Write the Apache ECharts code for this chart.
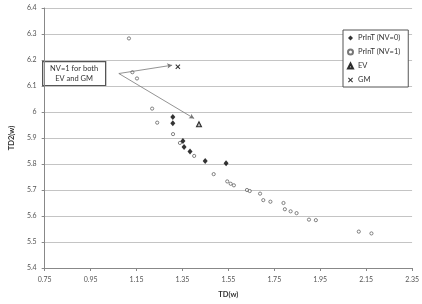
<!DOCTYPE html>
<html>
<head>
<meta charset="utf-8">
<script src="https://cdn.jsdelivr.net/npm/echarts@6/dist/echarts.min.js"></script>
<style>
  html, body { margin: 0; padding: 0; background: #fff; }
  #chart { width: 422px; height: 304px; }
</style>
</head>
<body>
<div id="chart"></div>
<script>
// PrInT (NV=0)
const nv0X = [1.308, 1.308, 1.352, 1.357, 1.383, 1.449, 1.540]
const nv0Y = [5.981, 5.957, 5.888, 5.865, 5.848, 5.812, 5.803]
// PrInT (NV=1)
const nv1X = [1.117, 1.132, 1.152, 1.218, 1.240, 1.309, 1.339, 1.401, 1.486, 1.545, 1.560, 1.574,
  1.631, 1.643, 1.688, 1.702, 1.733, 1.790, 1.796, 1.821, 1.847, 1.901, 1.931, 2.118, 2.173]
const nv1Y = [6.283, 6.153, 6.129, 6.013, 5.959, 5.915, 5.881, 5.831, 5.761, 5.733, 5.724, 5.718,
  5.700, 5.696, 5.686, 5.661, 5.655, 5.650, 5.626, 5.618, 5.611, 5.586, 5.584, 5.540, 5.533]
const evX = [1.422]
const evY = [5.953]
const gmX = [1.330]
const gmY = [6.174]
// annotation arrows: start (box edge) and ends
const noteStart = [1.073, 6.148]
const noteEnds = [[1.305, 6.180], [1.401, 5.975]]
const noteText = 'NV=1 for both\nEV and GM'

const font = 'Lato, "Open Sans", sans-serif'
const pair = (xs, ys) => xs.map((x, i) => [x, ys[i]])
const crossPath = 'path://M0,1.5 L1.5,0 L5,3.5 L8.5,0 L10,1.5 L6.5,5 L10,8.5 L8.5,10 L5,6.5 L1.5,10 L0,8.5 L3.5,5 Z'

const chart = echarts.init(document.getElementById('chart'))

const option = {
  animation: false,
  textStyle: { fontFamily: font },
  grid: { left: 26, right: 5, top: 8, bottom: 35 },
  legend: {
    orient: 'vertical',
    left: 343,
    top: 30,
    padding: [3, 8, 2, 4],
    itemGap: 4,
    itemWidth: 5,
    itemHeight: 5,
    borderColor: '#555',
    borderWidth: 1,
    backgroundColor: '#fff',
    textStyle: { fontSize: 7.5, color: '#333', fontFamily: font, lineHeight: 10 },
    data: ['PrInT (NV=0)', 'PrInT (NV=1)', 'EV', 'GM']
  },
  xAxis: {
    type: 'value',
    min: 0.75,
    max: 2.35,
    interval: 0.2,
    name: 'TD(w)',
    nameLocation: 'middle',
    nameGap: 23,
    nameTextStyle: { fontSize: 7.5, fontWeight: 'bold', color: '#333' },
    axisLine: { show: true, lineStyle: { color: '#888' } },
    axisTick: { show: true, length: 3, lineStyle: { color: '#888' } },
    axisLabel: { fontSize: 7, color: '#555', margin: 8, formatter: v => v.toFixed(2) },
    splitLine: { show: false }
  },
  yAxis: {
    type: 'value',
    min: 5.4,
    max: 6.4,
    interval: 0.1,
    name: 'TD2(w)',
    nameLocation: 'middle',
    nameGap: 17,
    nameTextStyle: { fontSize: 7.5, fontWeight: 'bold', color: '#333' },
    axisLine: { show: true, lineStyle: { color: '#888' } },
    axisTick: { show: true, length: 3, lineStyle: { color: '#888' } },
    axisLabel: { fontSize: 7, color: '#555', margin: 8 },
    splitLine: { lineStyle: { color: '#c4c4c4', width: 1 } }
  },
  series: [
    {
      name: 'PrInT (NV=1)',
      type: 'scatter',
      symbol: 'circle',
      symbolSize: 3.2,
      itemStyle: { color: '#fff', borderColor: '#555', borderWidth: 0.9 },
      data: pair(nv1X, nv1Y),
      z: 2
    },
    {
      name: 'PrInT (NV=0)',
      type: 'scatter',
      symbol: 'diamond',
      symbolSize: [5, 6],
      itemStyle: { color: '#000' },
      data: pair(nv0X, nv0Y),
      z: 3
    },
    {
      name: 'EV',
      type: 'scatter',
      symbol: 'triangle',
      symbolSize: 5,
      itemStyle: { color: '#aaa', borderColor: '#000', borderWidth: 1.1 },
      data: pair(evX, evY),
      z: 3
    },
    {
      name: 'GM',
      type: 'scatter',
      symbol: crossPath,
      symbolSize: 5,
      itemStyle: { color: '#000' },
      data: pair(gmX, gmY),
      z: 3,
      markLine: {
        silent: true,
        symbol: ['none', 'arrow'],
        symbolSize: [4, 5],
        label: { show: false },
        lineStyle: { color: '#777', width: 0.8, type: 'solid' },
        data: noteEnds.map(end => [{ coord: noteStart }, { coord: end }])
      }
    }
  ],
  graphic: [
    {
      type: 'group',
      left: 42,
      top: 61,
      children: [
        {
          type: 'rect',
          shape: { x: 0, y: 0, width: 63, height: 24 },
          style: { fill: '#fff', stroke: '#555', lineWidth: 1.3 }
        },
        {
          type: 'text',
          x: 31.5,
          y: 12,
          style: {
            text: noteText,
            fill: '#333',
            fontSize: 7.5,
            fontFamily: font,
            align: 'center',
            verticalAlign: 'middle',
            lineHeight: 10
          }
        }
      ]
    }
  ]
}

chart.setOption(option)
</script>
</body>
</html>
